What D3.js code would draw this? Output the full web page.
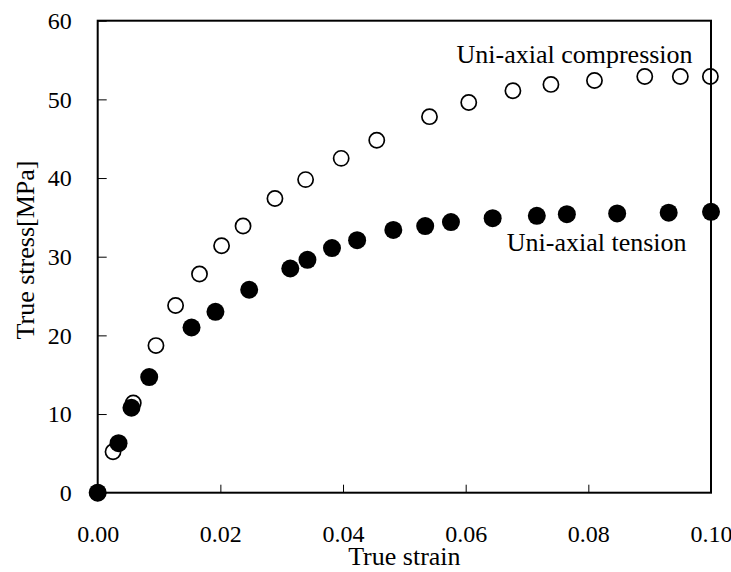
<!DOCTYPE html>
<html>
<head>
<meta charset="utf-8">
<script src="https://cdn.jsdelivr.net/npm/d3@7"></script>
<style>
  html, body { margin: 0; padding: 0; background: #fff; }
  svg { display: block; font-family: "Liberation Serif", "Times New Roman", serif; }
</style>
</head>
<body>
<svg id="chart" width="731" height="572"></svg>
<script>
// ---- Data ----
const compressionStrain = [0, 0.0025, 0.0058, 0.0095, 0.0127, 0.0166, 0.0202, 0.0237, 0.0289, 0.0339, 0.0397, 0.0455, 0.0541, 0.0605, 0.0677, 0.0739, 0.0810, 0.0892, 0.0950, 0.0999];
const compressionStress = [0, 5.2, 11.4, 18.7, 23.8, 27.8, 31.4, 33.9, 37.4, 39.8, 42.5, 44.8, 47.8, 49.6, 51.1, 51.9, 52.4, 52.9, 52.9, 52.9];
const tensionStrain = [0, 0.0034, 0.0055, 0.0084, 0.0153, 0.0192, 0.0247, 0.0314, 0.0342, 0.0382, 0.0423, 0.0482, 0.0534, 0.0576, 0.0644, 0.0716, 0.0765, 0.0847, 0.0931, 0.1000];
const tensionStress = [0, 6.3, 10.8, 14.7, 21.0, 23.0, 25.8, 28.5, 29.6, 31.1, 32.1, 33.4, 33.9, 34.4, 34.9, 35.2, 35.4, 35.5, 35.6, 35.7];
const xTicks = [0, 0.02, 0.04, 0.06, 0.08, 0.10];
const yTicks = [0, 10, 20, 30, 40, 50, 60];
const xTitle = "True strain";
const yTitle = "True stress[MPa]";
const compressionLabel = "Uni-axial compression";
const tensionLabel = "Uni-axial tension";

// ---- Layout ----
const W = 731, H = 572;
const margin = { left: 97.7, right: 20, top: 20.7, bottom: 79.3 };
const iw = W - margin.left - margin.right;
const ih = H - margin.top - margin.bottom;

const svg = d3.select("#chart");
const g = svg.append("g").attr("transform", `translate(${margin.left},${margin.top})`);

const x = d3.scaleLinear().domain([0, 0.1]).range([0, iw]);
const y = d3.scaleLinear().domain([0, 60]).range([ih, 0]);

// Axes
const xAxis = d3.axisBottom(x).tickValues(xTicks).tickFormat(d3.format(".2f"))
  .tickSizeInner(-8).tickSizeOuter(0).tickPadding(32);
const yAxis = d3.axisLeft(y).tickValues(yTicks).tickFormat(d3.format("d"))
  .tickSizeInner(-9).tickSizeOuter(0).tickPadding(26);

const gx = g.append("g").attr("transform", `translate(0,${ih})`).call(xAxis);
const gy = g.append("g").call(yAxis);
[gx, gy].forEach(a => {
  a.select(".domain").remove();
  a.selectAll(".tick line").attr("stroke", "#000").attr("stroke-width", 1);
  a.selectAll(".tick text").attr("fill", "#000")
    .style("font-family", '"Liberation Serif", "Times New Roman", serif')
    .style("font-size", "24px");
});

// Frame
g.append("rect").attr("x", 0).attr("y", 0).attr("width", iw).attr("height", ih)
  .attr("fill", "none").attr("stroke", "#000").attr("stroke-width", 2);

// Data
const comp = compressionStrain.map((s, i) => ({ x: s, y: compressionStress[i] }));
const tens = tensionStrain.map((s, i) => ({ x: s, y: tensionStress[i] }));

g.append("g").selectAll("circle").data(comp).join("circle")
  .attr("cx", d => x(d.x)).attr("cy", d => y(d.y)).attr("r", 7.6)
  .attr("fill", "none").attr("stroke", "#000").attr("stroke-width", 1.7);

g.append("g").selectAll("circle").data(tens).join("circle")
  .attr("cx", d => x(d.x)).attr("cy", d => y(d.y)).attr("r", 9)
  .attr("fill", "#000");

// Annotations
g.append("text").attr("x", x(0.0970)).attr("y", y(54.6))
  .attr("text-anchor", "end").style("font-size", "26px").attr("fill", "#000")
  .text(compressionLabel);
g.append("text").attr("x", x(0.0667)).attr("y", y(30.76))
  .attr("text-anchor", "start").style("font-size", "26px").attr("fill", "#000")
  .text(tensionLabel);

// Axis titles
svg.append("text").attr("x", margin.left + iw / 2).attr("y", 565)
  .attr("text-anchor", "middle").style("font-size", "26px").attr("fill", "#000")
  .text(xTitle);
svg.append("text").attr("transform", "translate(34,250) rotate(-90)")
  .attr("text-anchor", "middle").style("font-size", "26px").attr("fill", "#000")
  .text(yTitle);
</script>
</body>
</html>
